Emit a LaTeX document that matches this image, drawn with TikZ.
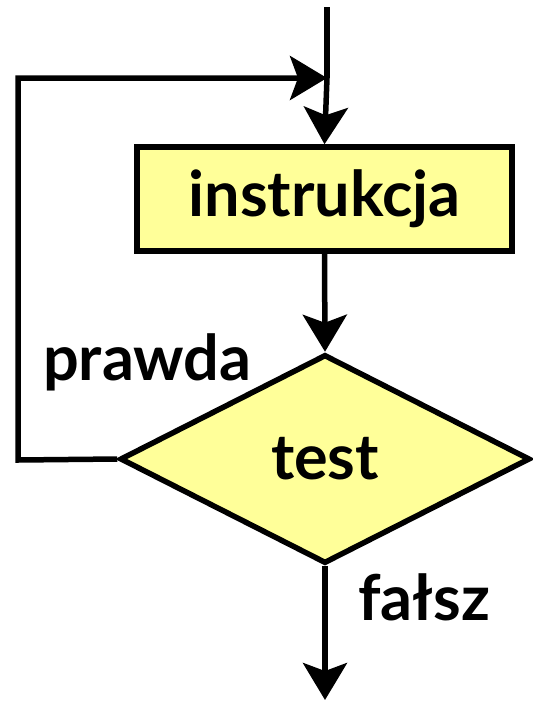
\documentclass[tikz,border=0pt]{standalone}
\usepackage{fontspec}
\setmainfont{Lato}
\usetikzlibrary{arrows.meta,shapes.geometric}
\definecolor{yel}{HTML}{FFFF99}
\tikzset{
  conn/.style={line width=5.5pt, -{Stealth[length=37pt,width=44pt,inset=8pt]}},
  plain/.style={line width=5.5pt},
  lbl/.style={font=\fontsize{63}{66}\selectfont\bfseries, inner sep=0pt},
  stepbox/.style={draw, line width=5.5pt, fill=yel, minimum width=375pt, minimum height=104pt, inner sep=0pt, font=\fontsize{63}{66}\selectfont\bfseries},
  testbox/.style={draw, diamond, line width=5.5pt, fill=yel, minimum width=410pt, minimum height=209pt, inner sep=0pt, font=\fontsize{63}{66}\selectfont\bfseries}
}
\begin{document}
\begin{tikzpicture}[x=1pt,y=-1pt]
\useasboundingbox (0,0) rectangle (533,702);
\node[stepbox] (ins) at (324.5,199) {instrukcja};
\node[testbox] (tst) at (325,459) {test};
\coordinate (start) at (327,7);
\coordinate (join) at (327,78);
\coordinate (lu) at (18,78);
\coordinate (ld) at (18,460);
\coordinate (end) at (325,700);
\draw[plain] (start) -- (join);
\draw[conn] (join) -- (ins.north);
\draw[conn] (ins.south) -- (tst.north);
\draw[conn] (tst.west) -- (ld) -- (lu) -- (join);
\draw[conn] (tst.south) -- (end);
\node[lbl, anchor=base west] (pr) at (43,380) {prawda};
\node[lbl, anchor=base west] (fa) at (358,620) {fałsz};
\end{tikzpicture}
\end{document}
